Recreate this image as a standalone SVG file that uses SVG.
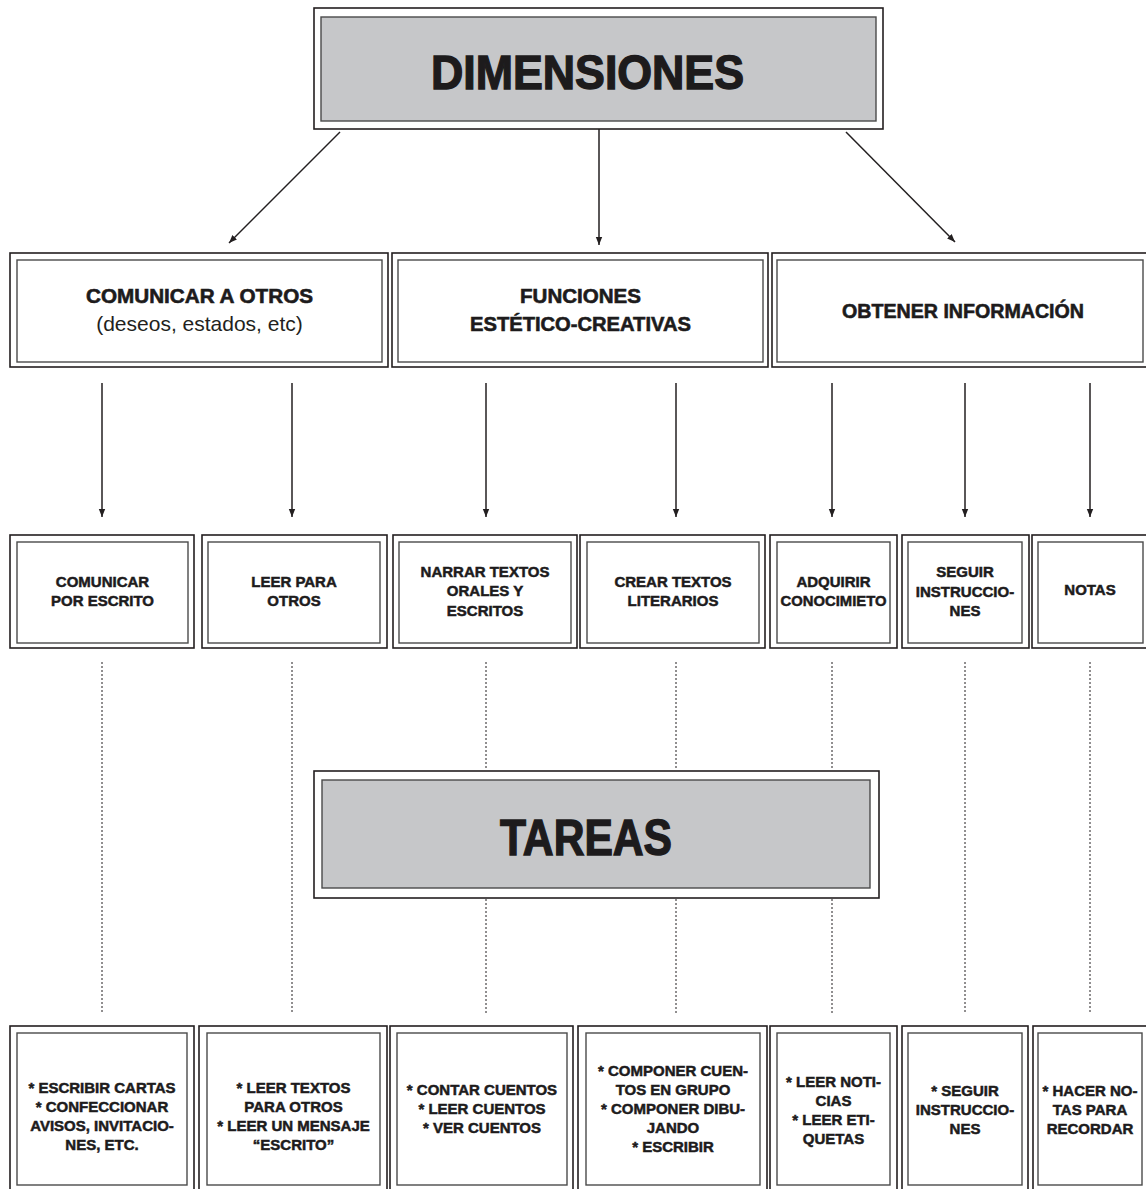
<svg xmlns="http://www.w3.org/2000/svg" width="1146" height="1189" viewBox="0 0 1146 1189">
<style>
.o{fill:#fff;stroke:#231f20;stroke-width:1.6}
.i{fill:none;stroke:#4a4a4a;stroke-width:1.4}
.gi{fill:#c6c7c9;stroke:#4a4a4a;stroke-width:1.4}
.t{font-family:"Liberation Sans",Arial,sans-serif;font-weight:bold;fill:#1d1b1c;stroke:#1d1b1c;text-anchor:middle}
.s{font-size:15px;stroke-width:0.5}
.m{font-size:20px;stroke-width:0.6}
.b{stroke-width:1.4}
.r{font-family:"Liberation Sans",Arial,sans-serif;font-weight:normal;fill:#231f20;text-anchor:middle;font-size:21px}
.a{stroke:#231f20;stroke-width:1.5;fill:none}
.d{stroke:#231f20;stroke-width:1;stroke-dasharray:2 2;fill:none}
</style>
<defs>
<marker id="ah" markerUnits="userSpaceOnUse" markerWidth="8" markerHeight="8" viewBox="0 0 10 10" refX="10" refY="5" orient="auto">
<path d="M0,1 L10,5 L0,9 z" fill="#231f20"/>
</marker>
</defs>

<g id="connectors">
<line class="a" x1="340" y1="132" x2="229" y2="243" marker-end="url(#ah)"/>
<line class="a" x1="599" y1="128" x2="599" y2="245" marker-end="url(#ah)"/>
<line class="a" x1="846" y1="132" x2="955" y2="242" marker-end="url(#ah)"/>
<line class="a" x1="102" y1="383" x2="102" y2="517" marker-end="url(#ah)"/>
<line class="a" x1="292" y1="383" x2="292" y2="517" marker-end="url(#ah)"/>
<line class="a" x1="486" y1="383" x2="486" y2="517" marker-end="url(#ah)"/>
<line class="a" x1="676" y1="383" x2="676" y2="517" marker-end="url(#ah)"/>
<line class="a" x1="832" y1="383" x2="832" y2="517" marker-end="url(#ah)"/>
<line class="a" x1="965" y1="383" x2="965" y2="517" marker-end="url(#ah)"/>
<line class="a" x1="1090" y1="383" x2="1090" y2="517" marker-end="url(#ah)"/>
<line class="d" x1="102" y1="662" x2="102" y2="1013"/>
<line class="d" x1="292" y1="662" x2="292" y2="1013"/>
<line class="d" x1="486" y1="662" x2="486" y2="770"/>
<line class="d" x1="486" y1="899" x2="486" y2="1013"/>
<line class="d" x1="676" y1="662" x2="676" y2="770"/>
<line class="d" x1="676" y1="899" x2="676" y2="1013"/>
<line class="d" x1="832" y1="662" x2="832" y2="770"/>
<line class="d" x1="832" y1="899" x2="832" y2="1013"/>
<line class="d" x1="965" y1="662" x2="965" y2="1013"/>
<line class="d" x1="1090" y1="662" x2="1090" y2="1013"/>
</g>

<g id="dimensiones">
<rect class="o" x="314" y="8" width="569" height="121"/>
<rect class="gi" x="321" y="17" width="555" height="104"/>
<text class="t b" x="587.5" y="89" font-size="48" textLength="313" lengthAdjust="spacingAndGlyphs">DIMENSIONES</text>
</g>

<g id="comunicar-otros">
<rect class="o" x="10" y="253" width="378" height="114"/>
<rect class="i" x="17" y="260" width="365" height="102"/>
<text class="t m" x="199.5" y="303" textLength="227" lengthAdjust="spacingAndGlyphs">COMUNICAR A OTROS</text>
<text class="r" x="199.5" y="331">(deseos, estados, etc)</text>
</g>

<g id="funciones">
<rect class="o" x="392" y="253" width="376" height="114"/>
<rect class="i" x="398" y="260" width="365" height="102"/>
<text class="t m" x="580.5" y="303" textLength="121" lengthAdjust="spacingAndGlyphs">FUNCIONES</text>
<text class="t m" x="580.5" y="331" textLength="221" lengthAdjust="spacingAndGlyphs">ESTÉTICO-CREATIVAS</text>
</g>

<g id="obtener">
<rect class="o" x="772" y="253" width="376" height="114"/>
<rect class="i" x="777" y="260" width="366" height="102"/>
<text class="t m" x="963" y="318" textLength="242" lengthAdjust="spacingAndGlyphs">OBTENER INFORMACIÓN</text>
</g>

<g id="comunicar-escrito">
<rect class="o" x="10" y="535" width="184" height="113"/>
<rect class="i" x="17" y="542" width="171" height="101"/>
<text class="t s" x="102.5"><tspan x="102.5" y="587">COMUNICAR</tspan><tspan x="102.5" y="606">POR ESCRITO</tspan></text>
</g>

<g id="leer-otros">
<rect class="o" x="202" y="535" width="185" height="113"/>
<rect class="i" x="208" y="542" width="172" height="101"/>
<text class="t s" x="294"><tspan x="294" y="587">LEER PARA</tspan><tspan x="294" y="606">OTROS</tspan></text>
</g>

<g id="narrar">
<rect class="o" x="393" y="535" width="184" height="113"/>
<rect class="i" x="399" y="542" width="172" height="101"/>
<text class="t s" x="485"><tspan x="485" y="577">NARRAR TEXTOS</tspan><tspan x="485" y="596">ORALES Y</tspan><tspan x="485" y="616">ESCRITOS</tspan></text>
</g>

<g id="crear">
<rect class="o" x="580" y="535" width="185" height="113"/>
<rect class="i" x="587" y="542" width="172" height="101"/>
<text class="t s" x="673"><tspan x="673" y="587">CREAR TEXTOS</tspan><tspan x="673" y="606">LITERARIOS</tspan></text>
</g>

<g id="adquirir">
<rect class="o" x="770" y="535" width="127" height="113"/>
<rect class="i" x="777" y="542" width="113" height="101"/>
<text class="t s" x="833.5"><tspan x="833.5" y="587">ADQUIRIR</tspan><tspan x="833.5" y="606" textLength="106" lengthAdjust="spacingAndGlyphs">CONOCIMIETO</tspan></text>
</g>

<g id="seguir">
<rect class="o" x="902" y="535" width="127" height="113"/>
<rect class="i" x="908" y="542" width="114" height="101"/>
<text class="t s" x="965"><tspan x="965" y="577">SEGUIR</tspan><tspan x="965" y="597">INSTRUCCIO-</tspan><tspan x="965" y="616">NES</tspan></text>
</g>

<g id="notas">
<rect class="o" x="1032" y="535" width="116" height="113"/>
<rect class="i" x="1038" y="542" width="105" height="101"/>
<text class="t s" x="1090" y="595">NOTAS</text>
</g>

<g id="tareas">
<rect class="o" x="314" y="771" width="565" height="127"/>
<rect class="gi" x="322" y="780" width="548" height="108"/>
<text class="t b" x="586" y="855" font-size="50" textLength="172" lengthAdjust="spacingAndGlyphs">TAREAS</text>
</g>

<g id="t-comunicar">
<rect class="o" x="10" y="1026" width="184" height="175"/>
<rect class="i" x="17" y="1033" width="170" height="152"/>
<text class="t s" x="102"><tspan x="102" y="1093">* ESCRIBIR CARTAS</tspan><tspan x="102" y="1112">* CONFECCIONAR</tspan><tspan x="102" y="1131">AVISOS, INVITACIO-</tspan><tspan x="102" y="1150">NES, ETC.</tspan></text>
</g>

<g id="t-leer">
<rect class="o" x="199" y="1026" width="188" height="175"/>
<rect class="i" x="207" y="1033" width="173" height="152"/>
<text class="t s" x="293.5"><tspan x="293.5" y="1093">* LEER TEXTOS</tspan><tspan x="293.5" y="1112">PARA OTROS</tspan><tspan x="293.5" y="1131">* LEER UN MENSAJE</tspan><tspan x="293.5" y="1150">“ESCRITO”</tspan></text>
</g>

<g id="t-narrar">
<rect class="o" x="390" y="1026" width="183" height="175"/>
<rect class="i" x="397" y="1033" width="170" height="152"/>
<text class="t s" x="482"><tspan x="482" y="1095">* CONTAR CUENTOS</tspan><tspan x="482" y="1114">* LEER CUENTOS</tspan><tspan x="482" y="1133">* VER CUENTOS</tspan></text>
</g>

<g id="t-crear">
<rect class="o" x="578" y="1026" width="189" height="175"/>
<rect class="i" x="586" y="1033" width="174" height="152"/>
<text class="t s" x="673"><tspan x="673" y="1076">* COMPONER CUEN-</tspan><tspan x="673" y="1095">TOS EN GRUPO</tspan><tspan x="673" y="1114">* COMPONER DIBU-</tspan><tspan x="673" y="1133">JANDO</tspan><tspan x="673" y="1152">* ESCRIBIR</tspan></text>
</g>

<g id="t-adquirir">
<rect class="o" x="770" y="1026" width="127" height="175"/>
<rect class="i" x="777" y="1033" width="113" height="152"/>
<text class="t s" x="833.5"><tspan x="833.5" y="1087">* LEER NOTI-</tspan><tspan x="833.5" y="1106">CIAS</tspan><tspan x="833.5" y="1125">* LEER ETI-</tspan><tspan x="833.5" y="1144">QUETAS</tspan></text>
</g>

<g id="t-seguir">
<rect class="o" x="902" y="1026" width="126" height="175"/>
<rect class="i" x="908" y="1033" width="114" height="152"/>
<text class="t s" x="965"><tspan x="965" y="1096">* SEGUIR</tspan><tspan x="965" y="1115">INSTRUCCIO-</tspan><tspan x="965" y="1134">NES</tspan></text>
</g>

<g id="t-notas">
<rect class="o" x="1033" y="1026" width="116" height="175"/>
<rect class="i" x="1038" y="1033" width="104" height="152"/>
<text class="t s" x="1090"><tspan x="1090" y="1096">* HACER NO-</tspan><tspan x="1090" y="1115">TAS PARA</tspan><tspan x="1090" y="1134">RECORDAR</tspan></text>
</g>
</svg>
